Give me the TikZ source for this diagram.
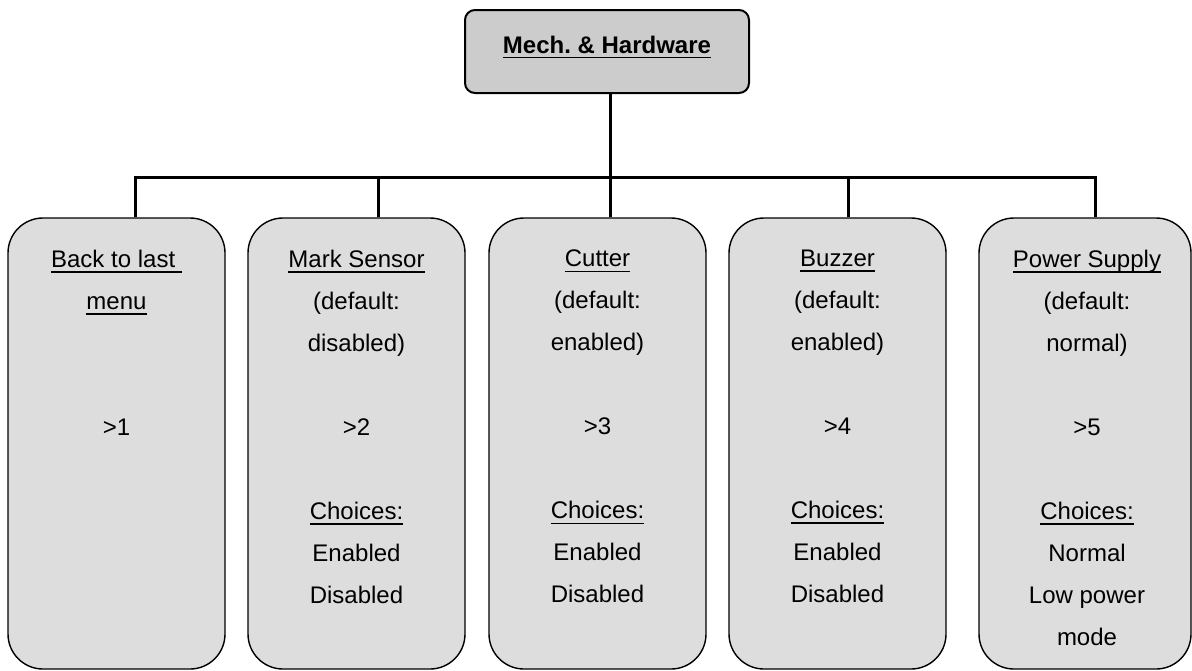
\documentclass[tikz,border=0pt]{standalone}
\usepackage{fontspec}
\setmainfont{Liberation Sans}
\newsavebox\ulbox
\newcommand\myul[1]{\sbox\ulbox{#1}\rlap{\rule[-2.6pt]{\wd\ulbox}{0.6pt}}\usebox\ulbox}
\definecolor{topgray}{RGB}{204,204,204}
\definecolor{boxgray}{RGB}{221,221,221}
\begin{document}
\begin{tikzpicture}[x=0.5pt,y=-0.5pt,
  conn/.style={line width=1.5pt},
  topbox/.style={draw, line width=1pt, fill=topgray, rounded corners=5pt,
    minimum width=142pt, minimum height=41.5pt, inner sep=0pt},
  toptext/.style={anchor=base, inner sep=0pt, font=\bfseries\fontsize{12pt}{14pt}\selectfont},
  menubox/.style={draw, line width=0.7pt, fill=boxgray, rounded corners=17.5pt,
    minimum width=108.5pt, minimum height=225.5pt, inner sep=0pt},
  boxtext/.style={anchor=north, align=center, inner sep=0pt,
    font=\fontsize{12pt}{21pt}\selectfont}]
\useasboundingbox (0,0) rectangle (1192,670);
% top box
\node[topbox] (top) at (607,51.5) {};
\node[toptext] (ttop) at (607,53) {\myul{Mech.\ \&\ Hardware}};
% menu boxes
\node[menubox] (b1) at (116.5,443.5) {};
\node[menubox] (b2) at (356.5,443.5) {};
\node[menubox] (b3) at (597.5,443.5) {};
\node[menubox] (b4) at (837.5,443.5) {};
\node[menubox, minimum width=106pt] (b5) at (1085,443.5) {};
% texts
\node[boxtext] (t1) at (116.5,249.5) {\myul{Back to last\ }\\\myul{menu}\\[42pt]>1};
\node[boxtext] (t2) at (356.5,249.5) {\myul{Mark Sensor}\\(default:\\disabled)\\[21pt]>2\\[21pt]\myul{Choices:}\\Enabled\\Disabled};
\node[boxtext] (t3) at (597.5,249.5) {\myul{Cutter}\\(default:\\enabled)\\[21pt]>3\\[21pt]\myul{Choices:}\\Enabled\\Disabled};
\node[boxtext] (t4) at (837.5,249.5) {\myul{Buzzer}\\(default:\\enabled)\\[21pt]>4\\[21pt]\myul{Choices:}\\Enabled\\Disabled};
\node[boxtext] (t5) at (1087,249.5) {\myul{Power Supply}\\(default:\\normal)\\[21pt]>5\\[21pt]\myul{Choices:}\\Normal\\Low power\\mode};
% connectors
\coordinate (j1) at (135,177);
\coordinate (j2) at (378,177);
\coordinate (jt) at (610,177);
\coordinate (j4) at (848,177);
\coordinate (j5) at (1095,177);
\draw[conn] (b1.north -| j1) -- (j1) -- (j5) -- (b5.north -| j5);
\draw[conn] (b2.north -| j2) -- (j2);
\draw[conn] (b3.north -| jt) -- (jt) -- (top.south -| jt);
\draw[conn] (b4.north -| j4) -- (j4);
\end{tikzpicture}
\end{document}
